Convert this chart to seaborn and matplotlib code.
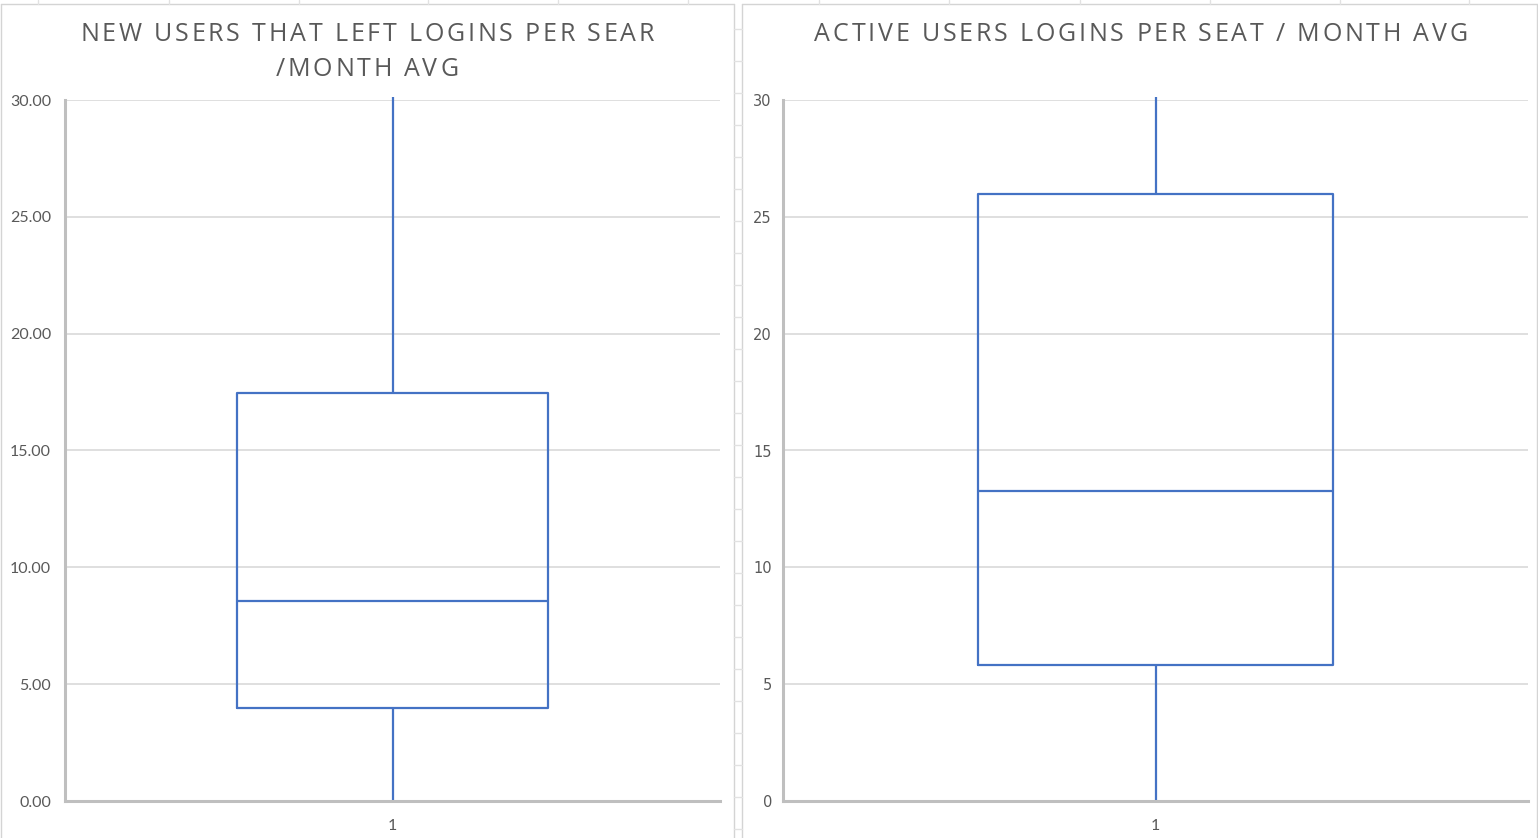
import pandas as pd
import matplotlib.pyplot as plt
from matplotlib.lines import Line2D
from matplotlib.ticker import FormatStrFormatter
from matplotlib.font_manager import FontProperties, findfont, get_font
import seaborn as sns

# values: min, Q1, median, Q3, max
new_users = [0.0, 4.0, 8.55, 17.45, 30.13]
active_users = [0.0, 5.82, 13.27, 25.97, 30.13]
category = "1"

title_left = ["NEW USERS THAT LEFT LOGINS PER SEAR", "/MONTH AVG"]
title_right = ["ACTIVE USERS LOGINS PER SEAT / MONTH AVG"]

blue = "#4472C4"
grey_txt = "#595959"
grid_c = "#d9d9d9"
axis_c = "#bfbfbf"

sns.set_style("white")

W, H = 1538, 838
fig = plt.figure(figsize=(W / 100, H / 100), dpi=100)


def px(x0, y0, x1, y1):
    # pixel box (top-left origin) -> figure fraction rect
    return [x0 / W, 1 - y1 / H, (x1 - x0) / W, (y1 - y0) / H]


ax1 = fig.add_axes(px(65, 100, 720, 801))
ax2 = fig.add_axes(px(783, 100, 1528, 801))

panels = [
    (ax1, new_users, "%.2f", "Lato", 10, 11.5),
    (ax2, active_users, "%d", "DejaVu Sans", 8, 10.5),
]

for ax, vals, fmt, tick_font, pad, size in panels:
    df = pd.DataFrame({"grp": [category] * len(vals), "value": vals})
    sns.boxplot(data=df, x="grp", y="value", ax=ax, width=0.476, fill=False,
                color=blue, linewidth=1.6, showcaps=False, whis=1.5)
    for ln in ax.lines:
        ln.set_clip_on(False)
    ax.set_ylim(0, 30)
    ax.set_xlim(-0.5, 0.5)
    ax.set_yticks(range(0, 31, 5))
    ax.yaxis.set_major_formatter(FormatStrFormatter(fmt))
    ax.grid(axis="y", color=grid_c, linewidth=1.2)
    ax.set_axisbelow(True)
    ax.set_xlabel("")
    ax.set_ylabel("")
    for s in ["top", "right"]:
        ax.spines[s].set_visible(False)
    for s in ["left", "bottom"]:
        ax.spines[s].set_color(axis_c)
        ax.spines[s].set_linewidth(2.2)
    ax.tick_params(axis="y", length=0, pad=pad, labelcolor=grey_txt, labelsize=size)
    ax.tick_params(axis="x", length=0, pad=13, labelcolor=grey_txt, labelsize=11.5)
    for lab in ax.get_yticklabels():
        lab.set_fontfamily(tick_font)
    for lab in ax.get_xticklabels():
        lab.set_fontfamily("Lato")

# spaced-out titles like the Excel chart titles
t_size = 18
t_track = 2.8
fp = FontProperties(family="Open Sans", size=t_size)
ft = get_font(findfont(fp))
ft.set_size(t_size, 100)


def advance(ch):
    return ft.load_char(ord(ch)).linearHoriAdvance / 65536


def spaced_title(lines, cx, base_y, step):
    for i, line in enumerate(lines):
        widths = [advance(c) for c in line]
        total = sum(widths) + t_track * (len(line) - 1)
        x = cx - total / 2
        y = base_y + i * step
        for c, w in zip(line, widths):
            fig.text(x / W, 1 - y / H, c, ha="left", va="baseline",
                     fontproperties=fp, color=grey_txt)
            x += w + t_track


spaced_title(title_left, 367, 41, 35)
spaced_title(title_right, 1141, 41, 35)

# chart frames and the spreadsheet cells showing around them
cell_c = "#e2e2e2"
def fline(xs, ys, c=cell_c, lw=1.0):
    fig.add_artist(Line2D([x / W for x in xs], [1 - y / H for y in ys],
                          color=c, linewidth=lw, transform=fig.transFigure))

for x0, x1 in [(1, 734), (742, 1537)]:
    fline([x0, x1], [4, 4], "#d4d4d4")
    fline([x0, x0], [4, 838], "#d4d4d4")
    fline([x1, x1], [4, 838], "#d4d4d4")
for x in [38, 169, 299, 428, 558, 688, 819, 949, 1080, 1210, 1340, 1469]:
    fline([x, x], [0, 4])
y = 29
while y < H:
    fline([734, 742], [y, y])
    y += 32

fig.savefig("out.png", dpi=100, facecolor="white")
